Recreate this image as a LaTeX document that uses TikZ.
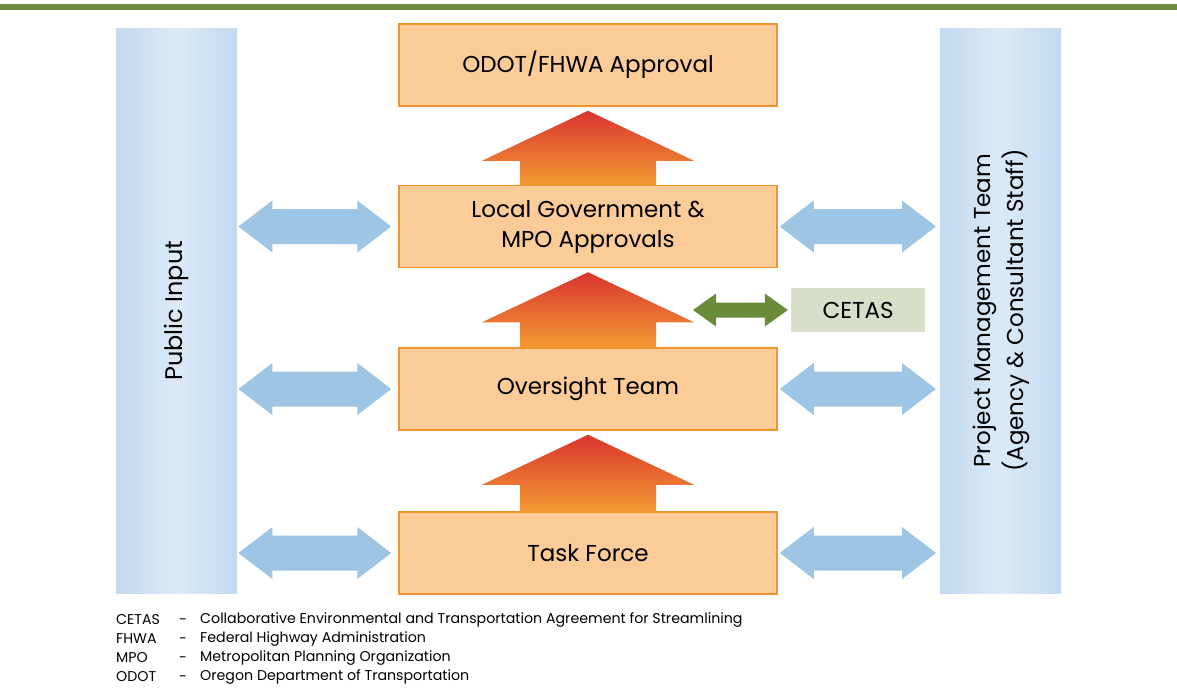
\documentclass[tikz,border=0pt]{standalone}
\usepackage{fontspec}
\setmainfont{Poppins}
\usetikzlibrary{calc}
\definecolor{boxfill}{HTML}{FBCB98}
\definecolor{boxdraw}{HTML}{F0952F}
\definecolor{barfill}{HTML}{DCEAF6}
\definecolor{baredge}{HTML}{C2DAF0}
\definecolor{bluearr}{HTML}{9EC5E3}
\definecolor{arrtop}{HTML}{D9342E}
\definecolor{arrbot}{HTML}{F39A33}
\definecolor{cetasfill}{HTML}{D7DEC9}
\definecolor{greenarr}{HTML}{6A8B3A}
\definecolor{topline}{HTML}{6B8C3E}
\newcommand\blkup[2]{% #1 lower node, #2 upper node
  \shade[top color=arrtop, bottom color=arrbot]
    ($(#1.north)+(-68,0)$) -- ($(#2.south)+(-68,54)$) -- ($(#2.south)+(-106,54)$)
    -- ($(#2.south)+(0,4)$) -- ($(#2.south)+(106,54)$) -- ($(#2.south)+(68,54)$)
    -- ($(#1.north)+(68,0)$) -- cycle;}
\newcommand\blkdbl[5]{% #1 left tip, #2 right tip, #3 colour, #4 head length, #5 head half
  \fill[#3] (#1) -- ($(#1)+(#4,-#5)$) -- ($(#1)+(#4,-\shafthalf)$) -- ($(#2)+(-#4,-\shafthalf)$)
    -- ($(#2)+(-#4,-#5)$) -- (#2) -- ($(#2)+(-#4,#5)$) -- ($(#2)+(-#4,\shafthalf)$)
    -- ($(#1)+(#4,\shafthalf)$) -- ($(#1)+(#4,#5)$) -- cycle;}
\begin{document}
\begin{tikzpicture}[x=1pt,y=-1pt,
  every node/.style={inner sep=0pt},
  stagebox/.style={rectangle, fill=boxfill, draw=boxdraw, line width=1.5pt,
    minimum width=378pt, minimum height=82pt, align=center,
    font=\fontsize{23}{30}\selectfont},
  sidebar/.style={rectangle, left color=baredge, right color=baredge, middle color=barfill,
    minimum width=121pt, minimum height=565pt, anchor=north west},
  sidelabel/.style={rotate=90, align=center, font=\fontsize{23}{33}\selectfont},
  legabbr/.style={anchor=west, font=\fontsize{14.2}{16}\selectfont},
]
\useasboundingbox (0,0) rectangle (1177,696);
\fill[white] (0,0) rectangle (1177,696);
\fill[topline] (0,4) rectangle (1177,10);

% side bars
\node[sidebar] (pub) at (116,28) {};
\node[sidebar] (pmt) at (940,28) {};
\node[sidelabel, font=\fontsize{24}{30}\selectfont] (publbl) at (pub.center) {Public Input};
\node[sidelabel] (pmtlbl) at ($(pmt.center)+(1,0)$) {Project Management Team\\(Agency \& Consultant Staff)};

% stage boxes
\node[stagebox] (odot) at (588,65) {ODOT/FHWA Approval};
\node[stagebox] (local) at (588,226.5) {Local Government \&\\MPO Approvals};
\node[stagebox] (over) at (588,389) {Oversight Team};
\node[stagebox] (task) at (588,553) {Task Force};

% CETAS
\node[rectangle, fill=cetasfill, minimum width=134pt, minimum height=44pt,
  font=\fontsize{23}{26}\selectfont] (cetas) at (858,310) {CETAS};

% up arrows
\blkup{local}{odot}
\blkup{over}{local}
\blkup{task}{over}

% blue double arrows
\def\shafthalf{17.5}
\foreach \b in {local,over,task}{
  \coordinate (l1) at ($(pub.east |- \b.west)+(1,0)$);
  \coordinate (r1) at ($(\b.west)+(-7,0)$);
  \blkdbl{l1}{r1}{bluearr}{34}{26}
  \coordinate (l2) at ($(\b.east)+(2,0)$);
  \coordinate (r2) at ($(pmt.west |- \b.east)+(-4,0)$);
  \blkdbl{l2}{r2}{bluearr}{34}{26}
}

% green arrow
\def\shafthalf{7.5}
\coordinate (gl) at (693,310);
\coordinate (gr) at ($(cetas.west)+(-3,0)$);
\blkdbl{gl}{gr}{greenarr}{23}{16.5}

% legend
\foreach \i/\ab/\de in {0/CETAS/Collaborative Environmental and Transportation Agreement for Streamlining,
  1/FHWA/Federal Highway Administration,
  2/MPO/Metropolitan Planning Organization,
  3/ODOT/Oregon Department of Transportation}{
  \node[legabbr] (ab\i) at (116,620+19*\i) {\ab};
  \node[legabbr] (da\i) at (179,622+19*\i) {-};
  \node[legabbr] (de\i) at (200,620+19*\i) {\de};
}
\end{tikzpicture}
\end{document}
